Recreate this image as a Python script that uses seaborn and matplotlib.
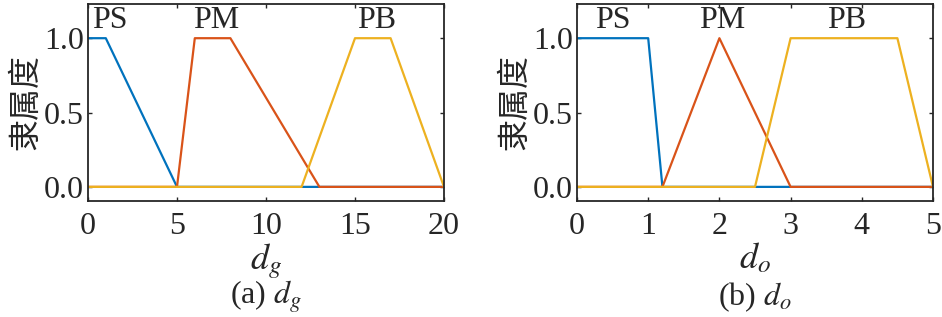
import matplotlib
matplotlib.use("Agg")
import matplotlib.pyplot as plt
import seaborn as sns
import pandas as pd

# ---- data ----
labels = ["PS", "PM", "PB"]
colors = ["#0072BD", "#D95319", "#EDB120"]

dg_ps_x = [0, 1, 5, 20]
dg_ps_y = [1, 1, 0, 0]
dg_pm_x = [0, 5, 6, 8, 13, 20]
dg_pm_y = [0, 0, 1, 1, 0, 0]
dg_pb_x = [0, 12, 15, 17, 20]
dg_pb_y = [0, 0, 1, 1, 0]

do_ps_x = [0, 1, 1.2, 5]
do_ps_y = [1, 1, 0, 0]
do_pm_x = [0, 1.2, 2, 3, 5]
do_pm_y = [0, 0, 1, 0, 0]
do_pb_x = [0, 2.5, 3, 4.5, 5]
do_pb_y = [0, 0, 1, 1, 0]

dg_label_x = [1.25, 7.2, 16.2]
do_label_x = [0.5, 2.04, 3.79]
label_y = 1.12

dg_xticks = [0, 5, 10, 15, 20]
do_xticks = [0, 1, 2, 3, 4, 5]
yticks = [0.0, 0.5, 1.0]
ytick_labels = ["0.0", "0.5", "1.0"]

sns.set_style("ticks")
plt.rcParams["font.family"] = ["Liberation Serif", "Noto Sans CJK SC"]
plt.rcParams["mathtext.fontset"] = "stix"

fig = plt.figure(figsize=(9.42, 3.17), dpi=100)
ax1 = fig.add_axes([88/942, 1-201/317, 356/942, 197/317])
ax2 = fig.add_axes([577/942, 1-201/317, 356/942, 197/317])

FS = 23

def draw(ax, series, xlim, xticks, lab_x, xlabel):
    for (x, y), c, name in zip(series, colors, labels):
        df = pd.DataFrame({"x": x, "y": y})
        sns.lineplot(data=df, x="x", y="y", ax=ax, color=c, linewidth=1.6,
                     estimator=None, sort=False)
    for lx, name in zip(lab_x, labels):
        ax.text(lx, label_y, name, ha="center", va="center", fontsize=FS,
                family="Liberation Serif")
    ax.set_xlim(*xlim)
    ax.set_ylim(-0.095, 1.23)
    ax.set_xticks(xticks)
    ax.set_xticklabels([str(t) for t in xticks], fontsize=FS)
    ax.set_yticks(yticks)
    ax.set_yticklabels(ytick_labels, fontsize=FS)
    ax.tick_params(axis="x", direction="in", top=True, length=3, width=1, pad=8)
    ax.tick_params(axis="y", direction="in", right=True, length=3, width=1, pad=3)
    for s in ax.spines.values():
        s.set_linewidth(1.3)
        s.set_visible(True)
    ax.set_xlabel(xlabel, fontsize=26, labelpad=0)
    ax.set_ylabel("隶属度", fontsize=23, family="Noto Sans CJK SC", labelpad=2)

draw(ax1, [(dg_ps_x, dg_ps_y), (dg_pm_x, dg_pm_y), (dg_pb_x, dg_pb_y)],
     (0, 20), dg_xticks, dg_label_x, "$d_g$")
draw(ax2, [(do_ps_x, do_ps_y), (do_pm_x, do_pm_y), (do_pb_x, do_pb_y)],
     (0, 5), do_xticks, do_label_x, "$d_o$")

fig.text(266/942, 1-297/317, "(a) $d_g$", ha="center", va="center", fontsize=23)
fig.text(755/942, 1-297/317, "(b) $d_o$", ha="center", va="center", fontsize=23)

fig.savefig("out.png", dpi=100)
